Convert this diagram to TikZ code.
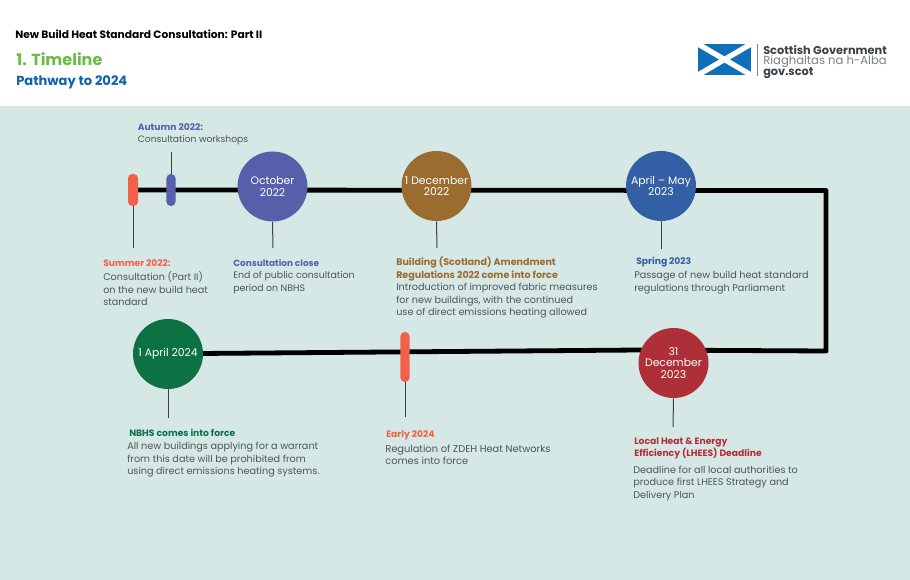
\documentclass[tikz,border=0pt]{standalone}
\usepackage{fontspec}
\setmainfont{Poppins}
\usetikzlibrary{backgrounds}
\definecolor{bgc}{HTML}{D5E8E6}
\definecolor{cred}{HTML}{F2604A}
\definecolor{cblue}{HTML}{565FA9}
\definecolor{cbrown}{HTML}{9A6C30}
\definecolor{csteel}{HTML}{3360A4}
\definecolor{cgreen}{HTML}{0C7143}
\definecolor{ccrim}{HTML}{AF2F38}
\definecolor{cgrey}{HTML}{4F5557}
\definecolor{cleaf}{HTML}{6CBB45}
\definecolor{cnavy}{HTML}{0F62B0}
\definecolor{saltire}{HTML}{0F6FB7}
\definecolor{sgtxt}{HTML}{3A4248}
\tikzset{
  x=0.75pt,y=-0.75pt,
  datecircle/.style={circle,fill=#1,minimum size=52.5pt,inner sep=0pt,text=white,align=center,font=\fontsize{8.1}{8.7}\selectfont},
  pill/.style={rounded corners=3.2pt,fill=#1,inner sep=0pt},
  lead/.style={draw=black!75,line width=0.75pt},
  track/.style={draw=black,line width=3.6pt,line join=round},
  head/.style={anchor=north west,inner sep=0pt,align=left,text=#1,font=\fontsize{6.9}{9.3}\selectfont\bfseries},
  body/.style={anchor=north west,inner sep=0pt,align=left,text=cgrey,font=\fontsize{7.25}{9.4}\selectfont},
}
\begin{document}
\begin{tikzpicture}
\useasboundingbox (0,0) rectangle (910,580);
% header
\node[anchor=west,inner sep=0pt,font=\fontsize{8}{9}\selectfont\bfseries] (ttl) at (15,34.5) {New Build Heat Standard Consultation: Part II};
\node[anchor=west,inner sep=0pt,text=cleaf,font=\fontsize{12}{14}\selectfont\bfseries] (sec) at (16,59) {1. Timeline};
\node[anchor=west,inner sep=0pt,text=cnavy,font=\fontsize{9.8}{12}\selectfont\bfseries] (path) at (16,82.5) {Pathway to 2024};
% logo
\fill[saltire] (698,44) rectangle (751,75);
\begin{scope}
\clip (698,44) rectangle (751,75);
\draw[white,line width=4pt] (698,44) -- (751,75) (698,75) -- (751,44);
\end{scope}
\draw[gray,line width=0.6pt] (757,44) -- (757,76);
\node[anchor=west,inner sep=0pt,text=sgtxt,font=\fontsize{8.5}{9}\selectfont\bfseries] (lg1) at (763,50.5) {Scottish Government};
\node[anchor=west,inner sep=0pt,text=gray,font=\fontsize{8.7}{9}\selectfont] (lg2) at (763,62) {Riaghaltas na h-Alba};
\node[anchor=west,inner sep=0pt,text=sgtxt,font=\fontsize{8.5}{9}\selectfont\bfseries] (lg3) at (763,73) {gov.scot};
% markers
\node[pill=cred,minimum width=7.5pt,minimum height=24pt] (psum) at (133,190) {};
\node[pill=cblue,minimum width=6.8pt,minimum height=24pt] (paut) at (171,190) {};
\node[pill=cred,minimum width=6.8pt,minimum height=37.5pt] (pearly) at (405,357) {};
\node[datecircle=cblue] (coct) at (272.5,186.5) {October\\2022};
\node[datecircle=cbrown] (cdec) at (436.5,186) {1 December\\2022};
\node[datecircle=csteel] (capr) at (661,186) {April – May\\2023};
\node[datecircle=ccrim] (cnye) at (673.5,363) {31\\December\\2023};
\node[datecircle=cgreen] (capl) at (168,354) {1 April 2024};
% track
\coordinate (tl) at (826,190.5);
\coordinate (bl) at (826,351);
\begin{scope}[on background layer]
\fill[white] (0,0) rectangle (910,580);
\fill[bgc] (0,106) rectangle (910,580);
\draw[track] (psum.center) -- (tl) -- (bl) -- (640,350) -- (200,353.5) -- (capl.center);
\end{scope}
% leaders
\coordinate (lsum) at (133,248);
\coordinate (laut) at (171,152);
\coordinate (loct) at (273,248);
\coordinate (ldec) at (437,248);
\coordinate (lapr) at (661,249);
\coordinate (lnye) at (673,427);
\coordinate (lapl) at (168,418);
\coordinate (lear) at (405,417);
\draw[lead] (psum.south) -- (lsum);
\draw[lead] (paut.north) -- (laut);
\draw[lead] (coct.south) -- (loct);
\draw[lead] (cdec.south) -- (ldec);
\draw[lead] (capr.south) -- (lapr);
\draw[lead] (cnye.south) -- (lnye);
\draw[lead] (capl.south) -- (lapl);
\draw[lead] (pearly.south) -- (lear);
% text
\node[head=cblue] (t1) at (137.5,123) {Autumn 2022:};
\node[body,font=\fontsize{6.9}{9.4}\selectfont] (b1) at (137.5,135.5) {Consultation workshops};
\node[head=cred] (t2) at (103,259) {Summer 2022:};
\node[body] (b2) at (103,271.5) {Consultation (Part II)\\on the new build heat\\standard};
\node[head=cblue,font=\fontsize{6.7}{9}\selectfont\bfseries] (t3) at (233,259) {Consultation close};
\node[body,font=\fontsize{7.05}{9.4}\selectfont] (b3) at (233,271.5) {End of public consultation\\period on NBHS};
\node[head=cbrown,font=\fontsize{7.15}{9.3}\selectfont\bfseries] (t4) at (396,257) {Building (Scotland) Amendment\\Regulations 2022 come into force};
\node[body] (b4) at (396,283) {Introduction of improved fabric measures\\for new buildings, with the continued\\use of direct emissions heating allowed};
\node[head=csteel] (t5) at (636,257) {Spring 2023};
\node[body] (b5) at (634,271) {Passage of new build heat standard\\regulations through Parliament};
\node[head=cgreen] (t6) at (129,429) {NBHS comes into force};
\node[body] (b6) at (127,442) {All new buildings applying for a warrant\\from this date will be prohibited from\\using direct emissions heating systems.};
\node[head=cred] (t7) at (386,430.5) {Early 2024};
\node[body,font=\fontsize{7.4}{9.4}\selectfont] (b7) at (385,444.5) {Regulation of ZDEH Heat Networks\\comes into force};
\node[head=ccrim] (t8) at (634,437) {Local Heat \& Energy\\Efficiency (LHEES) Deadline};
\node[body] (b8) at (633,465.5) {Deadline for all local authorities to\\produce first LHEES Strategy and\\Delivery Plan};
\end{tikzpicture}
\end{document}
